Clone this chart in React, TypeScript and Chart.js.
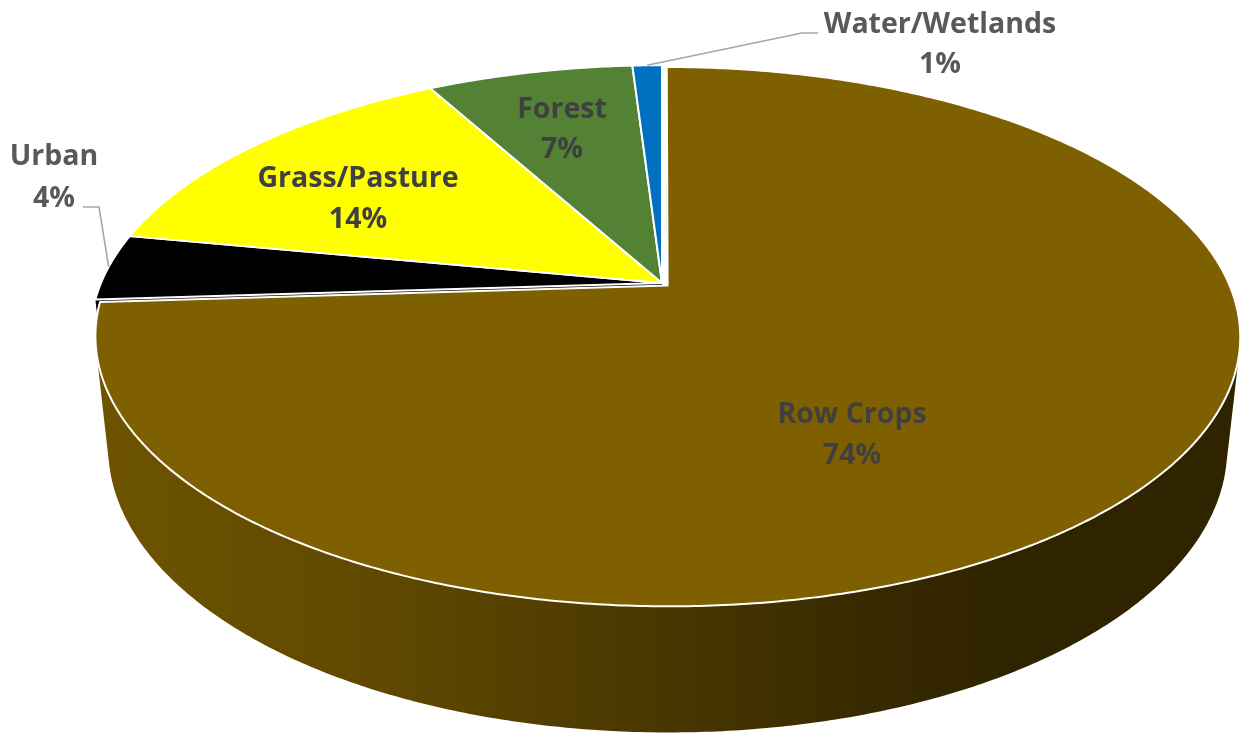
import React, { useEffect, useRef } from "react";
import { Chart, registerables } from "chart.js";

Chart.register(...registerables);

// ---- data ----
const categories = ["Row Crops", "Urban", "Grass/Pasture", "Forest", "Water/Wetlands"];
const landShare = [74, 4, 14, 7, 1];
const sliceColors = ["#7F6000", "#000000", "#FFFF00", "#548235", "#0070C0"];
const explodeOffsets = [5, 0, 0, 0, 0];

// ---- 3D view of the pie (perspective camera looking down on a disc) ----
const VIEW = {
  cx: 662, // screen position of the disc centre
  cy: 283,
  halfWidth: 561, // projected radius at the centre's depth
  tilt: (27.5 * Math.PI) / 180, // camera elevation
  distance: 4.68, // camera distance, in disc radii
  depth: 0.225, // disc thickness, in disc radii
};

// label anchors: [x, baseline of name, baseline of percent], leader = [startX, elbowX, y]
const LABEL_LAYOUT: Record<string, { x: number; y1: number; y2: number; inside: boolean; leader?: [number, number, number] }> = {
  "Row Crops": { x: 852, y1: 423, y2: 464, inside: true },
  Urban: { x: 54, y1: 165, y2: 207, inside: false, leader: [83, 99, 207] },
  "Grass/Pasture": { x: 358, y1: 187, y2: 228, inside: true },
  Forest: { x: 562, y1: 118, y2: 158, inside: true },
  "Water/Wetlands": { x: 940, y1: 33, y2: 73, inside: false, leader: [818, 802, 33] },
};

const FONT = 'bold 28.5px "Open Sans", "Noto Sans", sans-serif';

function shade(hex: string, f: number): string {
  const n = parseInt(hex.slice(1), 16);
  const r = Math.round(((n >> 16) & 255) * f);
  const g = Math.round(((n >> 8) & 255) * f);
  const b = Math.round((n & 255) * f);
  return `rgb(${r},${g},${b})`;
}

const pie3d = {
  id: "pie3d",
  beforeDatasetsDraw() {
    return false; // flat arcs are replaced by the projected disc
  },
  afterDraw(chart: any) {
    const ctx: CanvasRenderingContext2D = chart.ctx;
    const meta = chart.getDatasetMeta(0);
    const values: number[] = chart.data.datasets[0].data;
    const total = values.reduce((a: number, b: number) => a + b, 0);
    const s = Math.sin(VIEW.tilt);
    const c = Math.cos(VIEW.tilt);
    const D = VIEW.distance;
    const F = VIEW.halfWidth * D;
    const H = VIEW.depth;

    const depthOf = (u: number, v: number, w: number) => D + v * c - w * s;
    const project = (u: number, v: number, w: number): [number, number] => {
      const z = depthOf(u, v, w);
      return [VIEW.cx + (F * u) / z, VIEW.cy - (F * (v * s + w * c)) / z];
    };

    const slices = meta.data.map((arc: any, i: number) => {
      const t0 = arc.startAngle + Math.PI / 2;
      const t1 = arc.endAngle + Math.PI / 2;
      const mid = (t0 + t1) / 2;
      const off = (arc.options.offset || 0) / (arc.outerRadius || 1);
      return {
        i,
        t0,
        t1,
        mid,
        ox: off * Math.sin(mid),
        oy: off * Math.cos(mid),
        color: sliceColors[i],
      };
    });

    const rim = (sl: any, t: number, w: number) => project(sl.ox + Math.sin(t), sl.oy + Math.cos(t), w);
    const steps = (a: number, b: number) => Math.max(2, Math.ceil(Math.abs(b - a) / (Math.PI / 360)));

    const path = (pts: [number, number][]) => {
      ctx.beginPath();
      pts.forEach(([x, y], k) => (k ? ctx.lineTo(x, y) : ctx.moveTo(x, y)));
      ctx.closePath();
    };

    const sideGradient = (color: string) => {
      const g = ctx.createLinearGradient(95, 0, 1240, 0);
      g.addColorStop(0, shade(color, 0.87));
      g.addColorStop(0.27, shade(color, 0.74));
      g.addColorStop(0.48, shade(color, 0.58));
      g.addColorStop(0.66, shade(color, 0.45));
      g.addColorStop(0.79, shade(color, 0.38));
      g.addColorStop(1, shade(color, 0.38));
      return g;
    };

    // radial walls exposed by exploded slices
    const walls: { z: number; pts: [number, number][]; color: string }[] = [];
    const camV = -D * c;
    slices.forEach((sl: any) => {
      [
        { t: sl.t0, nx: -Math.cos(sl.t0), nv: Math.sin(sl.t0) },
        { t: sl.t1, nx: Math.cos(sl.t1), nv: -Math.sin(sl.t1) },
      ].forEach(({ t, nx, nv }) => {
        const facing = nx * (0 - sl.ox) + nv * (camV - sl.oy);
        if (facing <= 1e-6) return;
        const pts: [number, number][] = [
          project(sl.ox, sl.oy, 0),
          rim(sl, t, 0),
          rim(sl, t, -H),
          project(sl.ox, sl.oy, -H),
        ];
        const z = depthOf(sl.ox + 0.5 * Math.sin(t), sl.oy + 0.5 * Math.cos(t), -H / 2);
        walls.push({ z, pts, color: shade(sl.color, 0.6) });
      });
    });
    walls.sort((a, b) => b.z - a.z);
    walls.forEach((wl) => {
      path(wl.pts);
      ctx.fillStyle = wl.color;
      ctx.fill();
    });

    // outer curved side, only where it faces the camera
    slices.forEach((sl: any) => {
      const n = steps(sl.t0, sl.t1);
      let run: number[] = [];
      const runs: number[][] = [];
      for (let k = 0; k <= n; k++) {
        const t = sl.t0 + ((sl.t1 - sl.t0) * k) / n;
        const vis = -D * c * Math.cos(t) - (sl.ox * Math.sin(t) + sl.oy * Math.cos(t)) - 1 > 0;
        if (vis) run.push(t);
        else if (run.length) {
          runs.push(run);
          run = [];
        }
      }
      if (run.length) runs.push(run);
      runs.forEach((r) => {
        if (r.length < 2) return;
        const top = r.map((t) => rim(sl, t, 0));
        const bottom = r.map((t) => rim(sl, t, -H)).reverse();
        path([...top, ...bottom]);
        ctx.fillStyle = sideGradient(sl.color);
        ctx.fill();
      });
    });

    // top faces
    slices.forEach((sl: any) => {
      const n = steps(sl.t0, sl.t1);
      const pts: [number, number][] = [project(sl.ox, sl.oy, 0)];
      for (let k = 0; k <= n; k++) pts.push(rim(sl, sl.t0 + ((sl.t1 - sl.t0) * k) / n, 0));
      path(pts);
      ctx.fillStyle = sl.color;
      ctx.fill();
      ctx.strokeStyle = "#FFFFFF";
      ctx.lineWidth = 2;
      ctx.lineJoin = "round";
      ctx.stroke();
    });

    // data labels and leader lines
    ctx.font = FONT;
    ctx.textAlign = "center";
    ctx.textBaseline = "alphabetic";
    slices.forEach((sl: any) => {
      const name = chart.data.labels[sl.i];
      const lay = LABEL_LAYOUT[name];
      if (!lay) return;
      const pct = `${Math.round((values[sl.i] / total) * 100)}%`;
      if (lay.leader) {
        const [sx, ex, y] = lay.leader;
        const [px, py] = rim(sl, sl.mid, 0);
        ctx.beginPath();
        ctx.moveTo(sx, y);
        ctx.lineTo(ex, y);
        ctx.lineTo(px, py);
        ctx.strokeStyle = "#A6A6A6";
        ctx.lineWidth = 1.6;
        ctx.lineJoin = "miter";
        ctx.stroke();
      }
      ctx.fillStyle = lay.inside ? "#404040" : "#595959";
      ctx.fillText(name, lay.x, lay.y1);
      ctx.fillText(pct, lay.x, lay.y2);
    });
  },
};

export default function App() {
  const canvasRef = useRef<HTMLCanvasElement | null>(null);

  useEffect(() => {
    const canvas = canvasRef.current;
    if (!canvas) return;
    const chart = new Chart(canvas, {
      type: "pie",
      data: {
        labels: categories,
        datasets: [
          {
            data: landShare,
            backgroundColor: sliceColors,
            borderColor: "#FFFFFF",
            offset: explodeOffsets,
          },
        ],
      },
      options: {
        responsive: false,
        animation: false,
        events: [],
        plugins: {
          legend: { display: false },
          tooltip: { enabled: false },
        },
      },
      plugins: [pie3d],
    });
    return () => chart.destroy();
  }, []);

  return (
    <div style={{ position: "fixed", left: 0, top: 0, width: 1244, height: 736, background: "#FFFFFF" }}>
      <canvas ref={canvasRef} width={1244} height={736} style={{ display: "block" }} />
    </div>
  );
}
